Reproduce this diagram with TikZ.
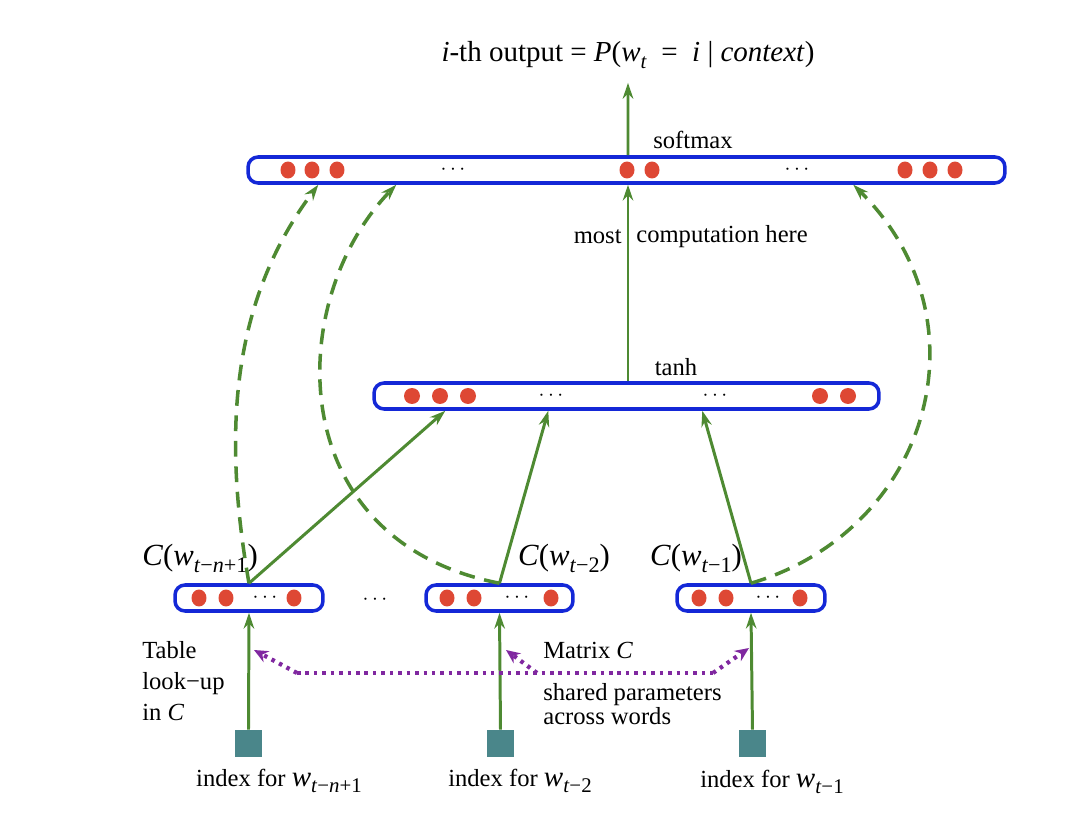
\documentclass[tikz,border=0pt]{standalone}
\usepackage{fontspec}
\setmainfont{Liberation Serif}
\usetikzlibrary{arrows.meta,calc}
\definecolor{gr}{RGB}{78,138,50}
\definecolor{bl}{RGB}{20,40,215}
\definecolor{rd}{RGB}{222,72,52}
\definecolor{pu}{RGB}{128,40,160}
\definecolor{tl}{RGB}{74,134,138}
\newcommand\lsub[1]{\raisebox{-0.5ex}{\scalebox{0.72}{#1}}}
\newcommand\vw[1]{\textit{w}\lsub{#1}}
\newcommand\bigw[1]{{\fontsize{16.5}{18}\selectfont\vw{#1}}}
\tikzset{
  layer/.style={draw=bl, line width=2pt, rounded corners=0.2cm, fill=white, minimum height=0.52cm, inner sep=0pt},
  garrow/.style={draw=gr, line width=1.7pt, -{Stealth[length=9pt,width=6pt]}},
  darrow/.style={garrow, line width=2pt, dash pattern=on 9pt off 5.5pt},
  parrow/.style={draw=pu, line width=2.4pt, dash pattern=on 2pt off 2.8pt, -{Stealth[length=8pt,width=7pt]}},
  pline/.style={draw=pu, line width=2.4pt, dash pattern=on 2pt off 2.8pt},
  idx/.style={fill=tl, minimum size=0.54cm, inner sep=0pt},
  lbl/.style={font=\fontsize{14}{16}\selectfont, inner sep=0pt},
  clbl/.style={font=\fontsize{17.5}{19}\selectfont, inner sep=0pt},
  ttl/.style={font=\fontsize{16.5}{18}\selectfont, inner sep=0pt},
  dotsl/.style={font=\fontsize{12}{14}\selectfont, inner sep=0pt},
}
\begin{document}
\begin{tikzpicture}[x=0.02cm,y=-0.02cm]
\useasboundingbox (0,0) rectangle (1080,828);

% layers
\node[layer, minimum width=15.14cm] (soft) at (626.5,170) {};
\node[layer, minimum width=10.1cm] (tanhbox) at (626.5,396) {};
\node[layer, minimum width=2.96cm] (c1) at (249,598) {};
\node[layer, minimum width=2.94cm] (c2) at (499.5,598) {};
\node[layer, minimum width=2.96cm] (c3) at (751,598) {};

% units
\foreach \x in {288,312,337,627,652,905,930,955}
  \fill[rd] (\x,170) ellipse [x radius=0.15cm, y radius=0.17cm];
\foreach \x in {412,440,468,820,848}
  \fill[rd] (\x,396) ellipse [x radius=0.16cm, y radius=0.16cm];
\foreach \x in {199,226,294,447,474,551,699,726,800}
  \fill[rd] (\x,598) ellipse [x radius=0.15cm, y radius=0.17cm];
\foreach \x/\y in {453/170,797/170,551/396,715/396,265/598,517/598,768/598}
  \node[dotsl] at (\x,\y) {$\cdots$};
\node[dotsl] (between) at (375,600) {$\cdots$};

% index boxes
\node[idx] (i1) at (248.5,743.5) {};
\node[idx] (i2) at (500.5,743.5) {};
\node[idx] (i3) at (752.5,743.5) {};

% title
\node[ttl] (out) at (628,55) {\textit{i}-th output = \textit{P}(\vw{\textit{t}}\hspace{0.5em}=\hspace{0.5em}\textit{i} | \textit{context})};

% labels
\node[lbl] (lsoft) at (693,140) {softmax};
\node[lbl] (ltanh) at (676,367) {tanh};
\node[lbl, anchor=east] (lmost) at (622,237) {most};
\node[lbl, anchor=west] (lcomp) at (636,237) {computation here};
\node[clbl] (lc1) at (200,558) {\textit{C}(\vw{\textit{t}−\textit{n}+1})};
\node[clbl] (lc2) at (564,558) {\textit{C}(\vw{\textit{t}−2})};
\node[clbl] (lc3) at (696,558) {\textit{C}(\vw{\textit{t}−1})};
\node[lbl] (li1) at (279,781) {index for \bigw{\textit{t}−\textit{n}+1}};
\node[lbl] (li2) at (520,781) {index for \bigw{\textit{t}−2}};
\node[lbl] (li3) at (772,782) {index for \bigw{\textit{t}−1}};
\node[lbl, anchor=north west, align=left, font=\fontsize{14}{17.6}\selectfont] (ltable) at (142,641) {Table\\look−up\\in \textit{C}};
\node[lbl, anchor=west] (lmatrix) at (543,650) {Matrix \textit{C}};
\node[lbl, anchor=north west, align=left, font=\fontsize{14}{13.8}\selectfont] (lshared) at (543,683) {shared parameters\\across words};

% main arrows
\draw[garrow] ($(soft.north)+(1.5,0)$) -- ($(out.south)+(0,14)$);
\draw[garrow] ($(tanhbox.north)+(1.5,0)$) -- ($(soft.south)+(1.5,0)$);
\draw[garrow] (c1.north) -- ($(tanhbox.south west)+(73,0)$);
\draw[garrow] (c2.north) -- ($(tanhbox.south west)+(176,0)$);
\draw[garrow] (c3.north) -- ($(tanhbox.south west)+(330,0)$);
\draw[garrow] (i1.north) -- (c1.south);
\draw[garrow] (i2.north) -- (c2.south);
\draw[garrow] (i3.north) -- (c3.south);

% dashed direct connections
\draw[darrow] (c1.north) .. controls (222,430) and (232,300) .. ($(soft.south west)+(72,0)$);
\draw[darrow] (c2.north) .. controls (280,540) and (285,300) .. ($(soft.south west)+(150,0)$);
\draw[darrow] (c3.north) .. controls (930,530) and (990,320) .. ($(soft.south west)+(607,0)$);

% shared parameter arrows
\coordinate (pL) at (297,673);
\coordinate (pM) at (537,673);
\coordinate (pR) at (713,673);
\coordinate (tL) at (254,650);
\coordinate (tM) at (506,650);
\coordinate (tR) at (749,648);
\draw[pline] (pL) -- (pR);
\draw[parrow] (pL) -- (tL);
\draw[parrow] (pM) -- (tM);
\draw[parrow] (pR) -- (tR);
\end{tikzpicture}
\end{document}
